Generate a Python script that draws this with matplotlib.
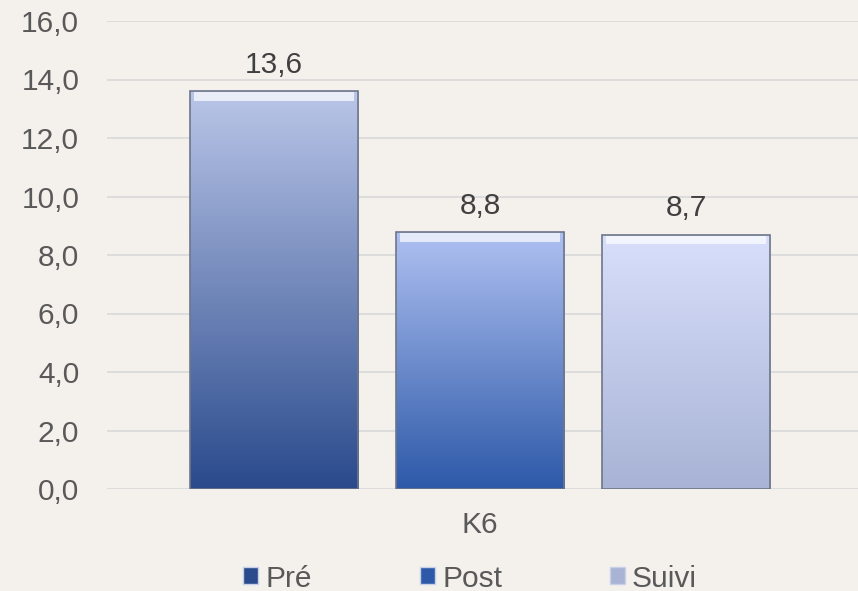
import numpy as np
import matplotlib.pyplot as plt
from matplotlib.colors import LinearSegmentedColormap
from matplotlib.patches import Rectangle

plt.rcParams['font.family'] = ['Liberation Sans', 'DejaVu Sans']

# data
category = "K6"
series = ["Pré", "Post", "Suivi"]
values = [13.6, 8.8, 8.7]
yticks = [0, 2, 4, 6, 8, 10, 12, 14, 16]

# gradient colours (top, bottom) per series
grad = [("#BAC6E8", "#2A4A8C"), ("#B0C1F2", "#2D59A8"), ("#D8DFFB", "#A8B3D5")]
bg = "#F4F0EC"
fs = 21.5

fig = plt.figure(figsize=(8.58, 5.91), dpi=100, facecolor=bg)
ax = fig.add_axes([107 / 858, 102 / 591, 751 / 858, 468 / 591], facecolor=bg)

width = 0.816
offsets = [-1, 0, 1]
for i, (name, v) in enumerate(zip(series, values)):
    x0 = offsets[i] - width / 2
    cmap = LinearSegmentedColormap.from_list(name, [grad[i][1], grad[i][0]])
    bar = ax.bar(offsets[i], v, width=width, color="none", edgecolor="#6E7689",
                 linewidth=1.2, zorder=3, label=name)[0]
    g = np.linspace(0, 1, 256).reshape(-1, 1)
    im = ax.imshow(g, cmap=cmap, origin="lower", aspect="auto",
                   extent=[x0, x0 + width, 0, v], zorder=2)
    im.set_clip_path(bar)
    # bevel highlight at top
    ax.add_patch(Rectangle((x0 + 0.02, v - 0.34), width - 0.04, 0.3,
                           facecolor="white", alpha=0.7, edgecolor="none", zorder=4))
    ax.annotate(f"{v:.1f}".replace(".", ","), (offsets[i], v),
                xytext=(0, 13), textcoords="offset points", ha="center",
                va="baseline", fontsize=fs, color="#404040")

ax.set_xlim(-1.81, 1.835)
ax.set_ylim(0, 16)
ax.set_yticks(yticks)
ax.set_yticklabels([f"{t:.1f}".replace(".", ",") for t in yticks])
ax.set_xticks([0])
ax.set_xticklabels([category])
ax.tick_params(axis="both", length=0, labelsize=fs, labelcolor="#595959")
ax.tick_params(axis="y", pad=20)
ax.tick_params(axis="x", pad=16)
ax.grid(axis="y", color="#D9D9D9", linewidth=1.2, zorder=0)
ax.set_axisbelow(True)
for s in ax.spines.values():
    s.set_visible(False)

handles = [Rectangle((0, 0), 1, 1, facecolor=grad[i][1], edgecolor="#C8D0E8") for i in range(3)]
fig.legend(handles, series, loc="center", bbox_to_anchor=(0.548, 0.021),
           ncol=3, frameon=False, fontsize=fs, labelcolor="#595959",
           handlelength=0.5, handleheight=0.5, handletextpad=0.25, columnspacing=3.6,
           borderpad=0)

fig.savefig("out.png", dpi=100, facecolor=bg)
